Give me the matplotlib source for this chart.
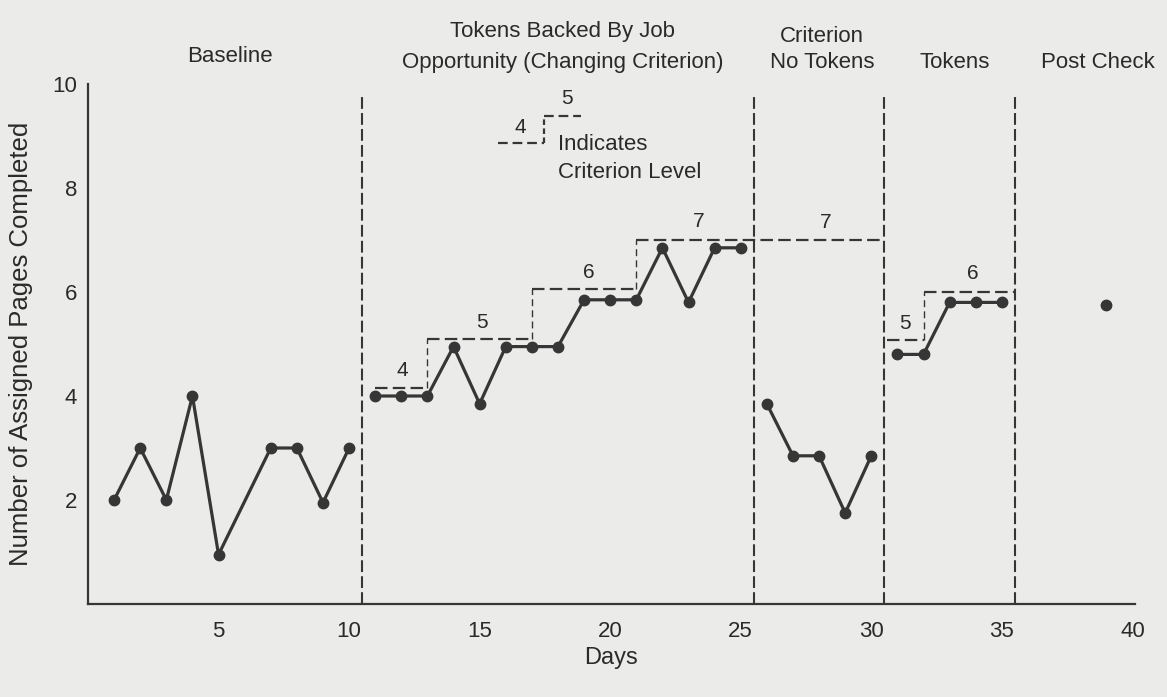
import matplotlib
matplotlib.use("Agg")
import matplotlib.pyplot as plt

plt.rcParams['font.family'] = ['Liberation Sans', 'DejaVu Sans']
plt.rcParams['lines.scale_dashes'] = False

# ---------------- data ----------------
baseline_days = [1, 2, 3, 4, 5, 7, 8, 9, 10]
baseline_vals = [2.0, 3.0, 2.0, 4.0, 0.95, 3.0, 3.0, 1.95, 3.0]

tbjo_days = list(range(11, 26))
tbjo_vals = [4.0, 4.0, 4.0, 4.95, 3.85, 4.95, 4.95, 4.95,
             5.85, 5.85, 5.85, 6.85, 5.8, 6.85, 6.85]

notok_days = [26, 27, 28, 29, 30]
notok_vals = [3.85, 2.85, 2.85, 1.75, 2.85]

tok_days = [31, 32, 33, 34, 35]
tok_vals = [4.8, 4.8, 5.8, 5.8, 5.8]

post_days = [39]
post_vals = [5.75]

phase_lines = [10.5, 25.5, 30.5, 35.5]

# changing-criterion steps (edges and levels as drawn)
crit1_edges = [11, 13, 17, 21, 30.5]
crit1_levels = [4.15, 5.1, 6.05, 7.0]
crit1_labels = ['4', '5', '6', '7']
crit1_label_pos = [(12.05, 4.5), (15.1, 5.42), (19.2, 6.38), (23.4, 7.36)]
crit1_extra_label = ('7', (28.25, 7.34))

crit2_edges = [30.6, 32, 35.5]
crit2_levels = [5.07, 6.0]
crit2_labels = ['5', '6']
crit2_label_pos = [(31.3, 5.4), (33.9, 6.35)]

x_ticks = [5, 10, 15, 20, 25, 30, 35, 40]
y_ticks = [2, 4, 6, 8, 10]

LINE = '#363636'
TEXT = '#2a2a2a'
PAPER = '#ebebe9'

fig = plt.figure(figsize=(11.67, 6.97), dpi=100, facecolor=PAPER)
ax = fig.add_axes([88/1167, 1-604/697, (1135-88)/1167, (604-84)/697])
ax.set_facecolor(PAPER)
ax.set_xlim(0, 40.1)
ax.set_ylim(0, 10)

for s in ['top', 'right']:
    ax.spines[s].set_visible(False)
for s in ['left', 'bottom']:
    ax.spines[s].set_color(LINE)
    ax.spines[s].set_linewidth(1.6)

ax.set_xticks(x_ticks)
ax.set_yticks(y_ticks)
ax.tick_params(axis='both', length=0, labelsize=16, colors=TEXT)
ax.tick_params(axis='x', pad=12)
ax.tick_params(axis='y', pad=8)

ax.set_xlabel('Days', fontsize=17, color=TEXT, labelpad=4)
ax.set_ylabel('Number of Assigned Pages Completed', fontsize=18.5, color=TEXT, labelpad=14)

# phase change lines
for x in phase_lines:
    ax.plot([x, x], [0, 9.82], color=LINE, lw=1.5, dashes=(8.5, 3), clip_on=False)

# data series
mk = dict(color=LINE, lw=2.3, marker='o', markersize=7.5, markerfacecolor=LINE,
          markeredgecolor=LINE, clip_on=False, zorder=3)
ax.plot(baseline_days, baseline_vals, **mk)
ax.plot(tbjo_days, tbjo_vals, **mk)
ax.plot(notok_days, notok_vals, **mk)
ax.plot(tok_days, tok_vals, **mk)
ax.plot(post_days, post_vals, **mk)

# criterion steps: horizontal levels and thinner vertical risers
for edges, levels in [(crit1_edges, crit1_levels), (crit2_edges, crit2_levels)]:
    for i, lv in enumerate(levels):
        ax.plot([edges[i], edges[i + 1]], [lv, lv], color=LINE, lw=1.6,
                dashes=(9, 3.8), zorder=2)
        if i + 1 < len(levels):
            ax.plot([edges[i + 1], edges[i + 1]], [lv, levels[i + 1]], color=LINE,
                    lw=1.0, dashes=(5, 3), zorder=2)

for lab, (x, y) in zip(crit1_labels + crit2_labels, crit1_label_pos + crit2_label_pos):
    ax.text(x, y, lab, fontsize=15, color=TEXT, ha='center', va='center')
ax.text(crit1_extra_label[1][0], crit1_extra_label[1][1], crit1_extra_label[0],
        fontsize=15, color=TEXT, ha='center', va='center')

# legend sample
ax.plot([15.7, 17.45], [8.86, 8.86], color=LINE, lw=1.6, dashes=(7, 3.5), clip_on=False)
ax.plot([17.45, 17.45], [8.86, 9.38], color=LINE, lw=1.6, dashes=(4, 2.5), clip_on=False)
ax.plot([17.45, 18.87], [9.38, 9.38], color=LINE, lw=1.6, dashes=(7, 3.5), clip_on=False)
ax.text(16.57, 9.17, '4', fontsize=15, color=TEXT, ha='center', va='center')
ax.text(18.33, 9.72, '5', fontsize=15, color=TEXT, ha='center', va='center')
ax.text(17.99, 8.84, 'Indicates', fontsize=16, color=TEXT, ha='left', va='center')
ax.text(17.99, 8.3, 'Criterion Level', fontsize=16, color=TEXT, ha='left', va='center')

# phase headers
hdr = dict(fontsize=16, color=TEXT, ha='center', va='center', clip_on=False)
ax.text(5.42, 10.52, 'Baseline', **hdr)
ax.text(18.18, 11.0, 'Tokens Backed By Job', **hdr)
ax.text(18.2, 10.42, 'Opportunity (Changing Criterion)', **hdr)
ax.text(28.1, 10.92, 'Criterion', **hdr)
ax.text(28.14, 10.42, 'No Tokens', **hdr)
ax.text(33.2, 10.42, 'Tokens', **hdr)
ax.text(38.68, 10.42, 'Post Check', **hdr)

fig.savefig('out.png', dpi=100, facecolor=PAPER)
